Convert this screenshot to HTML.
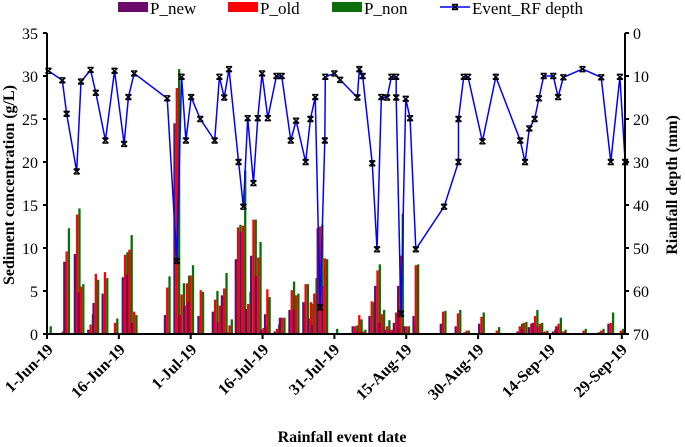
<!DOCTYPE html>
<html><head><meta charset="utf-8"><style>
html,body{margin:0;padding:0;background:#fff;}
#wrap{position:relative;width:685px;height:447px;overflow:hidden;}
svg{display:block;font-family:"Liberation Serif",serif;}
.xl{position:absolute;font:bold 16px "Liberation Serif",serif;white-space:nowrap;transform-origin:100% 0;line-height:16px;transform:rotate(-45deg);}
</style></head><body>
<div id="wrap">
<svg id="chart" width="685" height="447" viewBox="0 0 685 447" xmlns="http://www.w3.org/2000/svg">
<g id="legend">
  <g><rect x="118" y="2" width="30" height="10" fill="#6b0a6b"/><text x="150" y="14" font-size="17">P_new</text></g>
  <g><rect x="228" y="2" width="30" height="10" fill="#ff0000"/><text x="260" y="14" font-size="17">P_old</text></g>
  <g><rect x="332" y="2" width="30" height="10" fill="#0a6e0a"/><text x="364" y="14" font-size="17">P_non</text></g>
  <g><line x1="440" y1="7" x2="470" y2="7" stroke="#0000ff" stroke-width="1.5"/><path d="M452,4.5h6M452,9.5h6M452,4.5L458,9.5M458,4.5L452,9.5" stroke="#000" stroke-width="1.5"/><text x="472" y="14" font-size="17">Event_RF depth</text></g>
</g>
<g id="bars"></g>
<g id="line"></g>
<g id="axes"></g>
<text transform="translate(14,185) rotate(-90)" text-anchor="middle" font-size="16" font-weight="bold">Sediment concentration (g/L)</text>
<text transform="translate(677,185) rotate(-90)" text-anchor="middle" font-size="16" font-weight="bold">Rianfall depth (mm)</text>
<text x="342" y="442" text-anchor="middle" font-size="16" font-weight="bold">Rainfall event date</text>
</svg>
<div class="xl" style="right:640px;top:342px">1-Jun-19</div>
<div class="xl" style="right:568px;top:342px">16-Jun-19</div>
<div class="xl" style="right:496px;top:342px">1-Jul-19</div>
<div class="xl" style="right:424px;top:342px">16-Jul-19</div>
<div class="xl" style="right:353px;top:342px">31-Jul-19</div>
<div class="xl" style="right:281px;top:342px">15-Aug-19</div>
<div class="xl" style="right:209px;top:342px">30-Aug-19</div>
<div class="xl" style="right:137px;top:342px">14-Sep-19</div>
<div class="xl" style="right:65px;top:342px">29-Sep-19</div>
</div>
<script>
const barDays=[0.3,3.3,4.1,6.3,7.1,9.1,10.2,12.1,14.2,16.3,17.2,18.2,25.1,27.1,28.1,29.2,30,32.1,35.1,36.1,37,38.1,39.9,40.9,42,43.1,44.1,45.2,46,48,49.1,51.1,52,54,55.1,55.8,57,58,60.1,64.3,65.2,66,67.8,69,69.9,71,72,72.9,73.8,75.1,76.1,77,82.7,85.8,87.6,90.7,93.9,98.7,99.6,101.1,101.9,102.9,104,106.1,106.8,107.8,112,115.7,117.7,119.8];
const pNew=[0,0,8.4,9.3,4.8,0.5,3.6,4.7,0,6.6,6.9,1.3,2.2,24.5,2.2,3.3,3.7,2.1,2.6,1.4,4.5,0.2,8.7,11.9,2.9,9.1,6.7,0.5,2.3,0.3,1.9,2.8,2.8,3.7,1.8,1.0,12.3,5.6,0,0.9,0.3,0.2,2.1,5.6,1.3,0.5,0.4,1.3,5.6,0.9,0,2.1,1.2,0.9,0.2,1.2,0,0.3,0.6,0.8,1.3,0.8,0.2,0.3,0.9,0.2,0,0.2,1.2,0];
const pOld=[0,0.3,9.6,13.9,5.5,1.1,7.0,7.2,1.3,9.2,9.8,2.6,5.4,28.6,4.6,5.9,6.8,5.1,4.0,3.3,5.3,1.0,12.4,12.6,3.5,13.3,8.9,0.7,5.2,0.6,1.9,5.1,4.5,5.8,3.7,4.7,12.5,8.8,0,0.9,2.2,0.3,3.8,7.4,2.3,0.9,0.5,2.5,9.1,0.9,0,8.0,2.6,2.4,0.4,2.0,0.4,0.9,1.3,1.2,2.1,1.2,0.3,0.5,1.2,0.3,0.4,0.4,1.3,0.4];
const pNon=[0.9,1.1,12.3,14.6,5.8,2.3,6.3,6.5,1.8,9.5,11.5,2.2,6.7,30.8,5.9,6.8,8.0,4.9,5.0,4.4,7.1,1.7,12.7,19.0,4.9,13.3,10.7,0.9,4.3,1.1,1.9,6.1,4.7,5.8,3.5,6.5,12.7,8.7,0.6,1.0,1.7,0.5,3.7,8.1,2.8,1.6,0.8,3.2,14.0,0.9,1.2,8.1,2.7,2.8,0.4,2.5,0.8,1.2,1.4,1.0,2.8,1.3,0.4,0.5,1.9,0.5,0.6,0.6,2.5,0.6];
const lineDays=[0.3,3.2,4.1,6.2,7.1,9.1,10.2,12.2,14.1,16.1,17,18.2,25.1,27.1,28.1,29,30.1,32,35,36,37,38,40,41,41.9,43.1,44,44.9,46.1,47.9,49,50.9,52,54,55,56,57,58,58.1,60,61.2,64.8,65.2,65.9,67.9,68.9,69.8,71,71.9,72.9,72.9,73.9,74.9,75.8,77,82.9,85.9,85.9,87,87.9,90.9,93.7,98.8,99.8,100.7,101.8,102.7,103.7,105.7,106.7,107.8,111.8,115.7,117.7,119.6,120.7];
const depth=[8.8,11,18.8,32.2,11.3,8.6,13.9,25,8.8,25.8,14.9,9.4,15.2,53,10.2,25,14.9,20,25,10.2,15,8.4,30,40.4,19.8,34.9,19.8,9.4,19.8,10,10,25,20.4,30,20,14.9,63.8,25,10.2,9.4,10.9,15,8.4,10,30.3,50.3,14.9,15,10.2,10.2,15,65.3,15.3,19.8,50.3,40.4,30,20,10.2,10.2,25.2,10.2,25,30,22.2,20,15.2,10,10,14.9,10.3,8.4,10.3,30,10.2,30];
const leftTicks=[0,5,10,15,20,25,30,35];
const rightTicks=[0,10,20,30,40,50,60,70];
const dateTicks=[0,15,30,45,60,75,90,105,120];

const X0=47,PX=4.79,YB=334,YT=33;
const xs=d=>X0+d*PX;
const yL=v=>YB-v*(YB-YT)/35;
const yR=v=>YT+v*(YB-YT)/70;
const NS="http://www.w3.org/2000/svg";
function mk(tag,attrs,parent){const e=document.createElementNS(NS,tag);for(const k in attrs)e.setAttribute(k,attrs[k]);parent.appendChild(e);return e;}
const gb=document.getElementById('bars'),gl=document.getElementById('line'),ga=document.getElementById('axes');
const bw=2.3;
const series=[[pNew,"#6b0a6b","p-new"],[pOld,"#ff0000","p-old"],[pNon,"#0a6e0a","p-non"]];
barDays.forEach((d,i)=>{
  series.forEach((s,j)=>{
    const v=s[0][i];if(!v)return;
    const r=mk('rect',{x:xs(d)+(j-1.5)*bw,y:yL(v),width:bw,height:YB-yL(v),fill:s[1]},gb);
    
    
  });
});
const pts=lineDays.map((d,i)=>xs(d)+','+yR(depth[i])).join(' ');
const pl=mk('polyline',{points:pts,fill:'none',stroke:'#0000ff','stroke-width':1.5},gl);


lineDays.forEach((d,i)=>{
  const x=xs(d),y=yR(depth[i]);
  const m=mk('path',{d:`M${x-3},${y-2.5}h6M${x-3},${y+2.5}h6M${x-3},${y-2.5}L${x+3},${y+2.5}M${x+3},${y-2.5}L${x-3},${y+2.5}`,stroke:'#000','stroke-width':1.4},gl);
  
  
});
const XR=625;
mk('line',{x1:X0,y1:YT,x2:X0,y2:YB,stroke:'#000','stroke-width':2},ga);
mk('line',{x1:XR,y1:YT,x2:XR,y2:YB,stroke:'#000','stroke-width':2},ga);
mk('line',{x1:X0,y1:YB,x2:XR,y2:YB,stroke:'#000','stroke-width':2},ga);
leftTicks.forEach(v=>{
  mk('line',{x1:X0-4,y1:yL(v),x2:X0,y2:yL(v),stroke:'#000','stroke-width':2},ga);
  const t=mk('text',{x:X0-9,y:yL(v)+6,'text-anchor':'end','font-size':16},ga);t.textContent=v;
  
  
});
rightTicks.forEach(v=>{
  mk('line',{x1:XR,y1:yR(v),x2:XR+4,y2:yR(v),stroke:'#000','stroke-width':2},ga);
  const t=mk('text',{x:XR+8,y:yR(v)+6,'font-size':16},ga);t.textContent=v;
  
  
});
dateTicks.forEach(d=>{
  const x=xs(d);
  const tk=mk('line',{x1:x,y1:YB,x2:x,y2:YB+5,stroke:'#000','stroke-width':2},ga);
  
  
});
</script>
</body></html>
